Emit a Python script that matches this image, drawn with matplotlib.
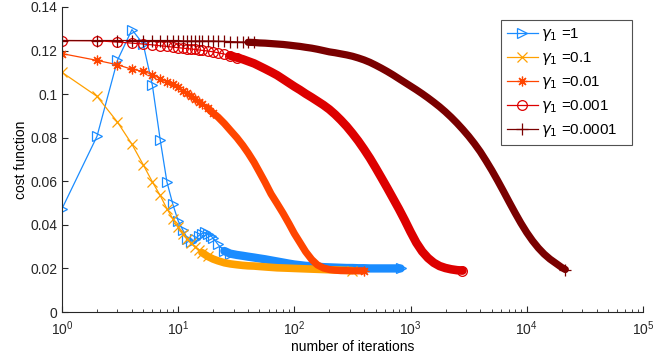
import matplotlib
matplotlib.use("Agg")
import matplotlib.pyplot as plt
from matplotlib.ticker import FuncFormatter, LogLocator, NullFormatter

plt.rcParams['font.family'] = ['Liberation Sans', 'DejaVu Sans']
plt.rcParams['mathtext.fontset'] = 'dejavusans'

labels = [r'$\gamma_1$ =1', r'$\gamma_1$ =0.1', r'$\gamma_1$ =0.01',
          r'$\gamma_1$ =0.001', r'$\gamma_1$ =0.0001']

# gamma = 1
it_g1 = [1, 2, 3, 4, 5, 6, 7, 8, 9, 10, 11, 12, 13, 14, 15, 16, 17, 18, 19, 20,
         22, 25, 28, 32, 36, 40, 45, 50, 56, 63, 71, 80, 90, 100, 112, 125, 141,
         158, 178, 200, 224, 251, 282, 316, 355, 398, 447, 501, 562, 631, 708, 794, 820]
cf_g1 = [0.0474, 0.0806, 0.1155, 0.1296, 0.1230, 0.1040, 0.0791, 0.0597, 0.0494, 0.0418,
         0.0375, 0.0337, 0.0320, 0.0335, 0.0350, 0.0360, 0.0365, 0.0360, 0.0350, 0.0340,
         0.0310, 0.0280, 0.0268, 0.0262, 0.0258, 0.0254, 0.0250, 0.0246, 0.0242, 0.0237,
         0.0232, 0.0227, 0.0222, 0.0218, 0.0215, 0.0212, 0.0210, 0.0208, 0.0206, 0.0205,
         0.0204, 0.0203, 0.0202, 0.0202, 0.0201, 0.0201, 0.0200, 0.0200, 0.0200, 0.0200,
         0.0200, 0.0200, 0.0200]

# gamma = 0.1
it_g01 = [1, 2, 3, 4, 5, 6, 7, 8, 9, 10, 11, 12, 13, 14, 15, 16, 18, 20,
          22, 25, 28, 32, 36, 40, 45, 50, 56, 63, 71, 80, 90, 100, 112, 125, 141,
          158, 178, 200, 224, 251, 282, 316]
cf_g01 = [0.1100, 0.0990, 0.0872, 0.0770, 0.0676, 0.0597, 0.0535, 0.0474, 0.0428, 0.0390,
          0.0360, 0.0335, 0.0315, 0.0300, 0.0285, 0.0273, 0.0255, 0.0243,
          0.0235, 0.0226, 0.0221, 0.0217, 0.0214, 0.0212, 0.0211, 0.0209, 0.0207, 0.0205,
          0.0203, 0.0202, 0.0201, 0.0200, 0.0199, 0.0198, 0.0197,
          0.0196, 0.0195, 0.0194, 0.0193, 0.0192, 0.0191, 0.0190]

# gamma = 0.01
it_g001 = [1, 2, 3, 4, 5, 6, 7, 8, 9, 10, 11, 12, 13, 14, 15, 16, 18, 20,
           22, 25, 28, 32, 36, 40, 45, 50, 56, 63, 71, 80, 90, 100, 112, 125, 141,
           158, 178, 200, 224, 251, 282, 316, 355, 398]
cf_g001 = [0.1186, 0.1155, 0.1135, 0.1114, 0.1105, 0.1090, 0.1071, 0.1056, 0.1045, 0.1033,
           0.1015, 0.1003, 0.0990, 0.0978, 0.0965, 0.0955, 0.0935, 0.0912,
           0.0895, 0.0865, 0.0835, 0.0800, 0.0765, 0.0730, 0.0687, 0.0643, 0.0595, 0.0542,
           0.0498, 0.0453, 0.0405, 0.0360, 0.0318, 0.0277, 0.0241,
           0.0216, 0.0202, 0.0195, 0.0192, 0.0190, 0.0190, 0.0189, 0.0189, 0.0189]

# gamma = 0.001
it_g0001 = [1, 2, 3, 4, 5, 6, 7, 8, 9, 10, 11, 12, 13, 14, 15, 16, 18, 20,
            22, 25, 28, 32, 36, 40, 45, 50, 56, 63, 71, 80, 90, 100, 112, 125, 141,
            158, 178, 200, 224, 251, 282, 316, 355, 398, 447, 501, 562, 631, 708, 794,
            891, 1000, 1122, 1259, 1413, 1585, 1778, 1995, 2239, 2512, 2800]
cf_g0001 = [0.1246, 0.1245, 0.1239, 0.1234, 0.1230, 0.1226, 0.1222, 0.1219, 0.1216, 0.1213,
            0.1211, 0.1209, 0.1207, 0.1205, 0.1203, 0.1201, 0.1198, 0.1194,
            0.1190, 0.1184, 0.1177, 0.1168, 0.1160, 0.1151, 0.1141, 0.1129, 0.1116, 0.1102,
            0.1087, 0.1069, 0.1051, 0.1035, 0.1019, 0.1002, 0.0985,
            0.0968, 0.0950, 0.0930, 0.0907, 0.0881, 0.0852, 0.0820, 0.0785, 0.0747, 0.0706,
            0.0662, 0.0616, 0.0569, 0.0521, 0.0473,
            0.0422, 0.0368, 0.0318, 0.0278, 0.0248, 0.0226, 0.0211, 0.0202, 0.0196, 0.0192, 0.0190]

# gamma = 0.0001
it_g00001 = [1, 2, 3, 4, 5, 6, 7, 8, 9, 10, 11, 12, 13, 14, 15, 16, 18, 20,
             22, 25, 28, 32, 36, 40, 45, 50, 56, 63, 71, 80, 90, 100, 112, 125, 141,
             158, 178, 200, 224, 251, 282, 316, 355, 398, 447, 501, 562, 631, 708, 794,
             891, 1000, 1122, 1259, 1413, 1585, 1778, 1995, 2239, 2512, 2818, 3162, 3548,
             3981, 4467, 5012, 5623, 6310, 7079, 7943, 8913, 10000, 11220, 12589, 14125,
             15849, 17783, 19953, 21500]
cf_g00001 = [0.1246, 0.1246, 0.1246, 0.1246, 0.1246, 0.1246, 0.1246, 0.1246, 0.1246, 0.1246,
             0.1244, 0.1244, 0.1244, 0.1244, 0.1244, 0.1244, 0.1244, 0.1244,
             0.1243, 0.1242, 0.1241, 0.1240, 0.1239, 0.1238, 0.1237, 0.1235, 0.1234, 0.1232,
             0.1230, 0.1228, 0.1225, 0.1222, 0.1219, 0.1215, 0.1211,
             0.1206, 0.1200, 0.1194, 0.1190, 0.1185, 0.1180, 0.1174, 0.1166, 0.1157, 0.1146,
             0.1133, 0.1119, 0.1104, 0.1088, 0.1071,
             0.1054, 0.1037, 0.1020, 0.1002, 0.0983, 0.0963, 0.0942, 0.0919, 0.0894, 0.0867,
             0.0838, 0.0807, 0.0773, 0.0736, 0.0694, 0.0650, 0.0603, 0.0554, 0.0504, 0.0455,
             0.0408, 0.0365, 0.0327, 0.0294, 0.0266, 0.0243, 0.0224, 0.0205, 0.0195]

x_label = 'number of iterations'
y_label = 'cost function'
y_ticks = [0, 0.02, 0.04, 0.06, 0.08, 0.1, 0.12, 0.14]

series = [(it_g1, cf_g1), (it_g01, cf_g01), (it_g001, cf_g001),
          (it_g0001, cf_g0001), (it_g00001, cf_g00001)]
colors = ['#1a8cff', '#ffa000', '#ff4500', '#dd0000', '#7a0000']
markers = ['>', 'x', (8, 2, 0), 'o', '+']
msizes = [7.5, 6.5, 7, 7, 8]
# iteration from which the dense markers merge into a solid band (style only)
band_from = [25, 16, 18, 28, 40]
band_lw = [6.0, 5.5, 5.2, 6.2, 5.2]

fig = plt.figure(figsize=(6.54, 3.6), dpi=100)
ax = fig.add_axes([0.0948, 0.1333, 0.8882, 0.8473])

z = 2
for (xs, ys), c, m, ms, lab, bf, blw in zip(series, colors, markers, msizes,
                                            labels, band_from, band_lw):
    k = xs.index(bf)
    # solid band where markers are dense
    ax.plot(xs[k:], ys[k:], color=c, lw=blw, solid_capstyle='round',
            solid_joinstyle='round', zorder=z)
    # thin line through all points, markers on the sparse part and at the end
    ax.plot(xs, ys, color=c, lw=0.9, marker=m, ms=ms, mfc='none', mec=c,
            mew=0.9, label=lab, zorder=z + 0.5,
            markevery=list(range(k + 2)) + [len(xs) - 1])
    z += 1

ax.set_xscale('log')
ax.set_xlim(1, 1e5)
ax.set_ylim(0, 0.14)
ax.set_yticks(y_ticks)
ax.yaxis.set_major_formatter(FuncFormatter(lambda v, p: '%g' % v))
ax.xaxis.set_major_locator(LogLocator(base=10, numticks=10))
ax.xaxis.set_minor_locator(LogLocator(base=10, subs=range(2, 10), numticks=100))
ax.xaxis.set_minor_formatter(NullFormatter())

for s in ['top', 'right']:
    ax.spines[s].set_visible(False)
for s in ['left', 'bottom']:
    ax.spines[s].set_color('#262626')
    ax.spines[s].set_linewidth(0.8)
    ax.spines[s].set_zorder(20)
ax.tick_params(which='both', direction='in', colors='#262626', labelsize=10)
ax.tick_params(which='major', length=4)
ax.tick_params(which='minor', length=2.5)
ax.tick_params(axis='x', pad=5)

ax.set_xlabel(x_label, fontsize=10, labelpad=2)
ax.set_ylabel(y_label, fontsize=10, labelpad=1.5)

leg = ax.legend(loc='upper right', bbox_to_anchor=(632 / 654, 1 - 20 / 360),
                bbox_transform=fig.transFigure, fancybox=False, fontsize=10.8,
                handlelength=2.05, borderpad=0.4, labelspacing=0.47,
                handletextpad=0.2, borderaxespad=0)
for t in leg.get_texts():
    t.set_text(t.get_text() + '   ')
leg.get_frame().set_edgecolor('#262626')
leg.get_frame().set_linewidth(0.8)
leg.set_zorder(30)

fig.savefig('out.png', dpi=100)
